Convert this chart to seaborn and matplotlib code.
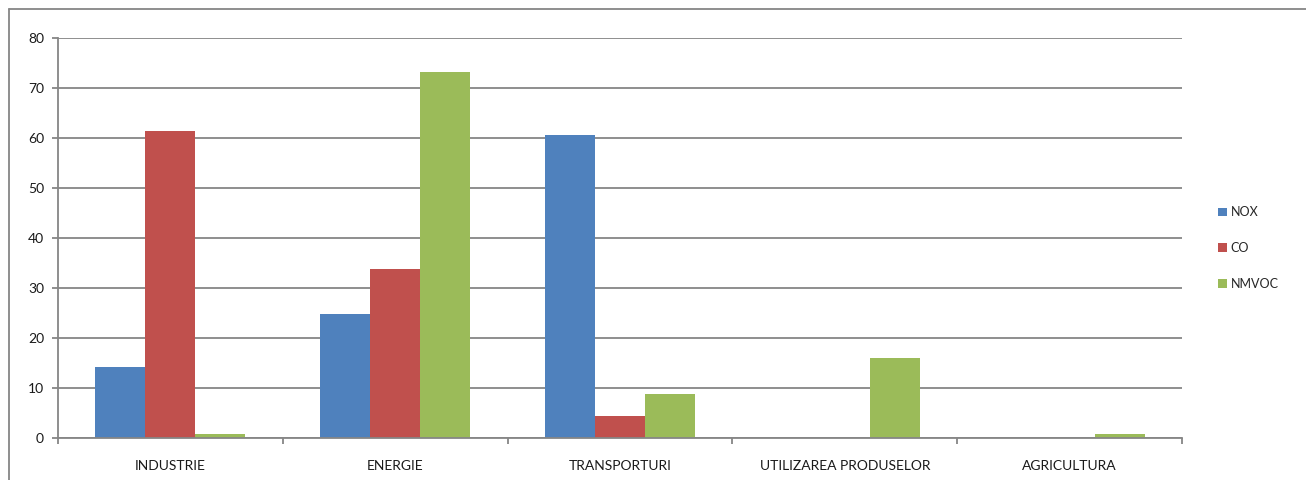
import numpy as np
import pandas as pd
import seaborn as sns
import matplotlib.pyplot as plt
from matplotlib.lines import Line2D
from matplotlib.ticker import MultipleLocator, FixedLocator

# Data
categories = ['INDUSTRIE', 'ENERGIE', 'TRANSPORTURI', 'UTILIZAREA PRODUSELOR', 'AGRICULTURA']
series = ['NOX', 'CO', 'NMVOC']
nox = [14.3, 24.9, 60.6, 0.0, 0.0]
co = [61.5, 33.9, 4.5, 0.0, 0.0]
nmvoc = [0.8, 73.3, 8.8, 16.0, 0.9]
colors = ['#4F81BD', '#C0504D', '#9BBB59']

df = pd.DataFrame({
    'category': categories * 3,
    'series': [s for s in series for _ in categories],
    'value': nox + co + nmvoc,
})

sns.set_theme(style='white')
plt.rcParams['font.family'] = ['Lato', 'DejaVu Sans']

W, H = 1306, 480
fig = plt.figure(figsize=(W / 100, H / 100), dpi=100)
ax = fig.add_axes([58 / W, 1 - 438 / H, (1182 - 58) / W, 400 / H])

sns.barplot(data=df, x='category', y='value', hue='series', hue_order=series,
            order=categories, palette=colors, width=0.667, gap=0,
            saturation=1, linewidth=0, ax=ax, legend=True)

grid_c = '#868686'
ax.set_xlim(-0.5, len(categories) - 0.5)
ax.set_ylim(0, 80)
ax.yaxis.set_major_locator(MultipleLocator(10))
ax.yaxis.grid(True, color=grid_c, linewidth=1.3)
ax.set_axisbelow(True)
ax.set_xlabel('')
ax.set_ylabel('')

for side in ['top', 'right']:
    ax.spines[side].set_visible(False)
for side in ['left', 'bottom']:
    ax.spines[side].set_color(grid_c)
    ax.spines[side].set_linewidth(1.3)

# category boundary ticks like Excel
ax.xaxis.set_minor_locator(FixedLocator(np.arange(-0.5, len(categories), 1.0)))
ax.tick_params(axis='x', which='major', length=0, pad=16, labelsize=10, colors='#1a1a1a')
ax.tick_params(axis='x', which='minor', direction='out', length=4, width=1.3, color=grid_c)
ax.tick_params(axis='y', which='major', direction='out', length=4, width=1.3,
               color=grid_c, pad=6, labelsize=10, labelcolor='#1a1a1a')
ax.tick_params(bottom=True, left=True, which='both')
ax.tick_params(axis='x', which='major', bottom=False)

leg = ax.legend(loc='center left', bbox_to_anchor=(1212 / W, 1 - 248 / H),
                bbox_transform=fig.transFigure, frameon=False, fontsize=9,
                handlelength=0.7, handleheight=0.7, handletextpad=0.3,
                labelspacing=1.9, borderpad=0)

# outer chart frame
fig.add_artist(Line2D([9 / W, 1.0], [1 - 9 / H, 1 - 9 / H], color=grid_c, linewidth=1.3))
fig.add_artist(Line2D([9 / W, 9 / W], [0, 1 - 9 / H], color=grid_c, linewidth=1.3))

fig.savefig('out.png', dpi=100)
